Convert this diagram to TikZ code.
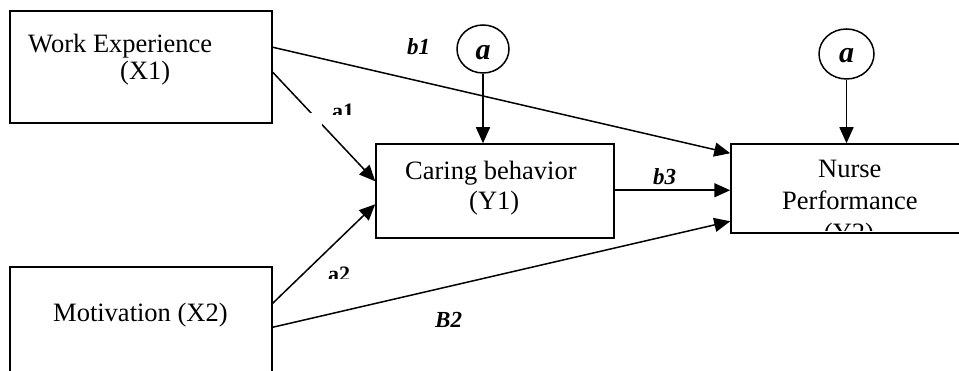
\documentclass[tikz,border=0pt]{standalone}
\usepackage{fontspec}
\setmainfont{Liberation Serif}
\usetikzlibrary{arrows.meta,shapes.geometric}
\tikzset{
 box/.style={draw, line width=1.5pt, rectangle, inner sep=0pt},
 conn/.style={line width=1.5pt, -{Triangle[length=16pt,width=14pt]}},
 txt/.style={inner sep=0pt, anchor=base west, font=\fontsize{26.5}{27}\selectfont},
 lab/.style={inner sep=0pt, anchor=base west, font=\fontsize{23}{25}\selectfont\bfseries\itshape},
 plab/.style={inner sep=0pt, anchor=base west, font=\fontsize{22}{24}\selectfont\bfseries},
 circ/.style={draw, ellipse, line width=1.5pt, inner sep=0pt},
 ctxt/.style={inner sep=0pt, anchor=base, font=\fontsize{30}{30}\selectfont\bfseries\itshape},
}
\begin{document}
\begin{tikzpicture}[x=1pt,y=-1pt]
\useasboundingbox (0,0) rectangle (959,371);
\clip (0,0) rectangle (959,371);
% boxes
\node[box, minimum width=262pt, minimum height=112pt] (x1) at (141,67) {};
\node[box, minimum width=262pt, minimum height=130pt] (x2) at (141,332) {};
\node[box, minimum width=238pt, minimum height=94pt] (y1) at (495,191) {};
\node[box, minimum width=236pt, minimum height=89pt] (y2) at (849,188.5) {};
% circles
\node[circ, minimum width=52pt, minimum height=48pt] (c1) at (483,49) {};
\node[circ, minimum width=55pt, minimum height=50pt] (c2) at (846.5,54) {};
\node[ctxt] (c1a) at (483,60) {a};
\node[ctxt] (c2a) at (846.5,63) {a};
% connectors
\draw[conn] ([yshift=-37pt]x1.north east) -- ([yshift=-10pt]y2.north west);
\draw[conn] ([yshift=-62pt]x1.north east) -- ([yshift=-38pt]y1.north west);
\draw[conn] ([yshift=-37pt]x2.north east) -- ([yshift=-61pt]y1.north west);
\draw[conn] ([yshift=-61pt]x2.north east) -- ([yshift=-78pt]y2.north west);
\draw[conn] ([yshift=-47pt]y1.north east) -- ([yshift=-47pt]y2.north west);
\draw[conn] (c1.south) -- (c1.south |- y1.north);
\draw[conn] (c2.south) -- (c2.south |- y2.north);
% mask over a1 line
\node[fill=white, inner sep=0pt, minimum width=22pt, minimum height=17pt] (a1mask) at (311,121.5) {};
% box texts
\node[txt] (t1) at (28,53) {Work Experience};
\node[txt] (t2) at (120,80) {(X1)};
\node[txt] (t3) at (405,180) {Caring behavior};
\node[txt] (t4) at (469,210) {(Y1)};
\node[txt] (t5) at (818,178) {Nurse};
\node[txt] (t6) at (782,210) {Performance};
\node[txt] (t8) at (53,322) {Motivation (X2)};
\begin{scope}
\clip (760,200) rectangle (940,231);
\node[txt, anchor=base] (t7) at (849,242) {(Y2)};
\end{scope}
% labels
\node[lab] (lb1) at (407,55) {b1};
\node[lab] (lb3) at (653,185) {b3};
\node[lab] (lB2) at (435,328) {B2};
\begin{scope}
\clip (320,95) rectangle (370,114.5);
\node[plab] (la1) at (332,119) {a1};
\end{scope}
\begin{scope}
\clip (320,255) rectangle (370,278.5);
\node[plab] (la2) at (328,282) {a2};
\end{scope}
\end{tikzpicture}
\end{document}
